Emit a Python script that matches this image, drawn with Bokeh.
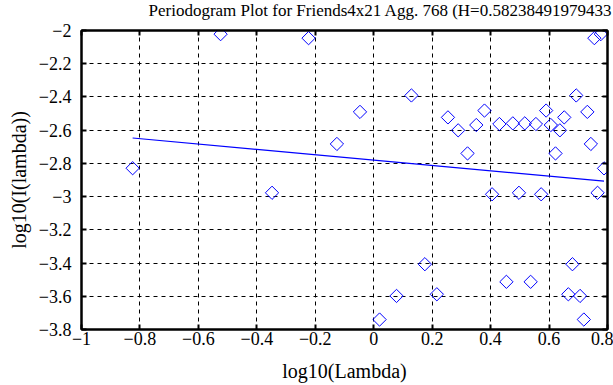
import math
from bokeh.plotting import figure
from bokeh.models import Range1d, FixedTicker, LinearAxis, Title
from bokeh.embed import file_html
from bokeh.resources import INLINE

# ---- data ----
log_lambda = [-0.825, -0.524, -0.348, -0.223, -0.126, -0.047, 0.020, 0.078, 0.129, 0.175,
              0.216, 0.254, 0.289, 0.321, 0.351, 0.379, 0.405, 0.430, 0.454, 0.476,
              0.497, 0.517, 0.537, 0.555, 0.573, 0.590, 0.606, 0.622, 0.637, 0.652,
              0.666, 0.680, 0.693, 0.706, 0.719, 0.731, 0.743, 0.755, 0.766, 0.777, 0.788]
log_I = [-2.829, -2.022, -2.977, -2.046, -2.683, -2.490, -3.740, -3.598, -2.391, -3.407,
         -3.588, -2.523, -2.601, -2.740, -2.569, -2.482, -2.986, -2.563, -3.513, -2.559,
         -2.977, -2.559, -3.513, -2.563, -2.986, -2.482, -2.569, -2.740, -2.601, -2.523,
         -3.588, -3.407, -2.391, -3.598, -3.740, -2.490, -2.683, -2.046, -2.977, -2.022, -2.830]
fit_x = [-0.825, 0.788]
fit_y = [-2.647, -2.907]

x_ticks = [-1, -0.8, -0.6, -0.4, -0.2, 0, 0.2, 0.4, 0.6, 0.8]
x_tick_labels = ["\u22121", "\u22120.8", "\u22120.6", "\u22120.4", "\u22120.2", "0", "0.2", "0.4", "0.6", "0.8"]
y_ticks = [-3.8, -3.6, -3.4, -3.2, -3, -2.8, -2.6, -2.4, -2.2, -2]
y_tick_labels = ["\u22123.8", "\u22123.6", "\u22123.4", "\u22123.2", "\u22123", "\u22122.8", "\u22122.6", "\u22122.4", "\u22122.2", "\u22122"]

title_text = "Periodogram Plot for Friends4x21 Agg. 768 (H=0.58238491979433"
x_label = "log10(Lambda)"
y_label = "log10(I(lambda))"

FONT = "Liberation Serif"
TICK_FS = "18px"
LABEL_FS = "20px"
TITLE_FS = "17px"
BLUE = "#0000ff"

p = figure(width=613, height=385, output_backend="svg", toolbar_location=None, title=None,
           x_range=Range1d(-1, 0.8), y_range=Range1d(-3.8, -2),
           min_border_left=81, min_border_right=6, min_border_top=30, min_border_bottom=56)

p.outline_line_color = "black"
p.outline_line_width = 2
p.background_fill_color = "white"
p.border_fill_color = "white"


def style_axis(ax):
    ax.axis_line_width = 2
    ax.axis_line_color = "black"
    ax.major_tick_in = 5
    ax.major_tick_out = 0
    ax.major_tick_line_width = 2
    ax.major_tick_line_color = "black"
    ax.minor_tick_line_color = None
    ax.major_label_text_font = FONT
    ax.major_label_text_font_size = TICK_FS
    ax.major_label_text_color = "black"


def spacer_axis(ticks, gap):
    # invisible axis used only to reserve a gap in a side panel
    return LinearAxis(ticker=FixedTicker(ticks=ticks),
                      major_label_overrides={t: "" for t in ticks},
                      major_label_standoff=0, major_tick_in=0, major_tick_out=gap,
                      axis_line_color=None, major_tick_line_color=None,
                      minor_tick_line_color=None)


xax = p.below[0]
yax = p.left[0]
style_axis(xax)
style_axis(yax)
xax.ticker = FixedTicker(ticks=x_ticks)
yax.ticker = FixedTicker(ticks=y_ticks)
xax.major_label_overrides = dict(zip(x_ticks, x_tick_labels))
yax.major_label_overrides = dict(zip(y_ticks, y_tick_labels))
xax.major_label_standoff = 2
yax.major_label_standoff = 10

# mirrored tick axes on top and right (no labels)
top_ax = LinearAxis(ticker=FixedTicker(ticks=x_ticks),
                    major_label_overrides={t: "" for t in x_ticks},
                    major_label_standoff=0)
right_ax = LinearAxis(ticker=FixedTicker(ticks=y_ticks),
                      major_label_overrides={t: "" for t in y_ticks},
                      major_label_standoff=0)
style_axis(top_ax)
style_axis(right_ax)
p.add_layout(top_ax, "above")
p.add_layout(right_ax, "right")

p.add_layout(spacer_axis(x_ticks, 9), "above")
p.add_layout(spacer_axis(x_ticks, 10), "below")
p.add_layout(spacer_axis(y_ticks, 4), "left")

title = Title(text=title_text, align="left", offset=67, standoff=0, vertical_align="top",
              text_font=FONT, text_font_size=TITLE_FS, text_font_style="normal", text_color="black")
p.add_layout(title, "above")

ylab = Title(text=y_label, align="center", offset=-8, standoff=0, vertical_align="top",
             text_font=FONT, text_font_size=LABEL_FS, text_font_style="normal", text_color="black")
p.add_layout(ylab, "left")

xlab = Title(text=x_label, align="center", offset=1, standoff=0, vertical_align="bottom",
             text_font=FONT, text_font_size=LABEL_FS, text_font_style="normal", text_color="black")
p.add_layout(xlab, "below")

for g in (p.xgrid[0], p.ygrid[0]):
    g.grid_line_color = "black"
    g.grid_line_dash = "4 4"
    g.grid_line_width = 1
p.xgrid[0].ticker = FixedTicker(ticks=x_ticks)
p.ygrid[0].ticker = FixedTicker(ticks=y_ticks)

p.line(fit_x, fit_y, line_color=BLUE, line_width=1.2)
p.scatter(log_lambda, log_I, marker="square", size=9.4, angle=math.pi / 4,
          fill_color=None, line_color=BLUE, line_width=1)

open("out.html", "w").write(file_html(p, INLINE))
